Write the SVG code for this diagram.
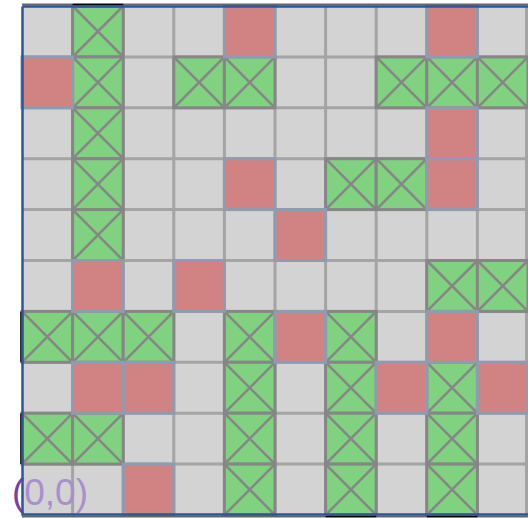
<svg xmlns="http://www.w3.org/2000/svg" xmlns:xlink="http://www.w3.org/1999/xlink" width="528" height="518" viewBox="0 0 528 518">
<style>
.gridline{stroke:#a4a4a4;stroke-width:3;fill:none}
.gcell{fill:#80d180;stroke:#868686;stroke-width:3}
.gx{stroke:#868686;stroke-width:2.5;fill:none}
.rcell{fill:#d18383;stroke:#8e9cb2;stroke-width:3}
.lbl{font-family:"Liberation Sans","DejaVu Sans",sans-serif;font-size:37px}
</style>
<defs>
<g id="green"><rect class="gcell" x="0" y="0" width="50.6" height="50.9"/><path class="gx" d="M0,0L50.6,50.9M50.6,0L0,50.9"/></g>
<rect id="red" class="rcell" x="0" y="0" width="50.6" height="50.9"/>
</defs>
<rect width="528" height="518" fill="#ffffff"/>
<g id="grid">
<rect x="22" y="6" width="506" height="509" fill="#d3d3d3"/>
<path class="gridline" d="M72.6,6V515M123.2,6V515M173.8,6V515M224.4,6V515M275,6V515M325.6,6V515M376.2,6V515M426.8,6V515M477.4,6V515M526.5,6V515M22,56.9H528M22,107.8H528M22,158.7H528M22,209.6H528M22,260.5H528M22,311.4H528M22,362.3H528M22,413.2H528M22,464.1H528"/>
</g>
<g id="label"><text class="lbl" x="12" y="505" textLength="76" lengthAdjust="spacing"><tspan fill="#7a3ea8">(</tspan><tspan fill="#a890cc">0,0)</tspan></text></g>
<g id="green-cells">
<use xlink:href="#green" x="72.6" y="6"/>
<use xlink:href="#green" x="72.6" y="56.9"/>
<use xlink:href="#green" x="173.8" y="56.9"/>
<use xlink:href="#green" x="224.4" y="56.9"/>
<use xlink:href="#green" x="376.2" y="56.9"/>
<use xlink:href="#green" x="426.8" y="56.9"/>
<use xlink:href="#green" x="477.4" y="56.9"/>
<use xlink:href="#green" x="72.6" y="107.8"/>
<use xlink:href="#green" x="72.6" y="158.7"/>
<use xlink:href="#green" x="325.6" y="158.7"/>
<use xlink:href="#green" x="376.2" y="158.7"/>
<use xlink:href="#green" x="72.6" y="209.6"/>
<use xlink:href="#green" x="426.8" y="260.5"/>
<use xlink:href="#green" x="477.4" y="260.5"/>
<use xlink:href="#green" x="22" y="311.4"/>
<use xlink:href="#green" x="72.6" y="311.4"/>
<use xlink:href="#green" x="123.2" y="311.4"/>
<use xlink:href="#green" x="224.4" y="311.4"/>
<use xlink:href="#green" x="325.6" y="311.4"/>
<use xlink:href="#green" x="224.4" y="362.3"/>
<use xlink:href="#green" x="325.6" y="362.3"/>
<use xlink:href="#green" x="426.8" y="362.3"/>
<use xlink:href="#green" x="22" y="413.2"/>
<use xlink:href="#green" x="72.6" y="413.2"/>
<use xlink:href="#green" x="224.4" y="413.2"/>
<use xlink:href="#green" x="325.6" y="413.2"/>
<use xlink:href="#green" x="426.8" y="413.2"/>
<use xlink:href="#green" x="224.4" y="464.1"/>
<use xlink:href="#green" x="325.6" y="464.1"/>
<use xlink:href="#green" x="426.8" y="464.1"/>
</g>
<g id="red-cells">
<use xlink:href="#red" x="224.4" y="6"/>
<use xlink:href="#red" x="426.8" y="6"/>
<use xlink:href="#red" x="22" y="56.9"/>
<use xlink:href="#red" x="426.8" y="107.8"/>
<use xlink:href="#red" x="224.4" y="158.7"/>
<use xlink:href="#red" x="426.8" y="158.7"/>
<use xlink:href="#red" x="275" y="209.6"/>
<use xlink:href="#red" x="72.6" y="260.5"/>
<use xlink:href="#red" x="173.8" y="260.5"/>
<use xlink:href="#red" x="275" y="311.4"/>
<use xlink:href="#red" x="426.8" y="311.4"/>
<use xlink:href="#red" x="72.6" y="362.3"/>
<use xlink:href="#red" x="123.2" y="362.3"/>
<use xlink:href="#red" x="376.2" y="362.3"/>
<use xlink:href="#red" x="477.4" y="362.3"/>
<use xlink:href="#red" x="123.2" y="464.1"/>
</g>
<g id="border">
<path d="M22,4.5H528M22,516.5H528" stroke="#666666" stroke-width="2" fill="none"/>
<path d="M72.6,4.5H123.2M325.6,516.5H376.2M426.8,516.5H477.4M21,311.4V362.3M21,413.2V464.1" stroke="#000000" stroke-width="1.5" fill="none"/>
<path d="M22.5,6.5V514.5H528M22.5,6.5H528" stroke="#2e5596" stroke-width="2.5" fill="none"/>
</g>
</svg>
